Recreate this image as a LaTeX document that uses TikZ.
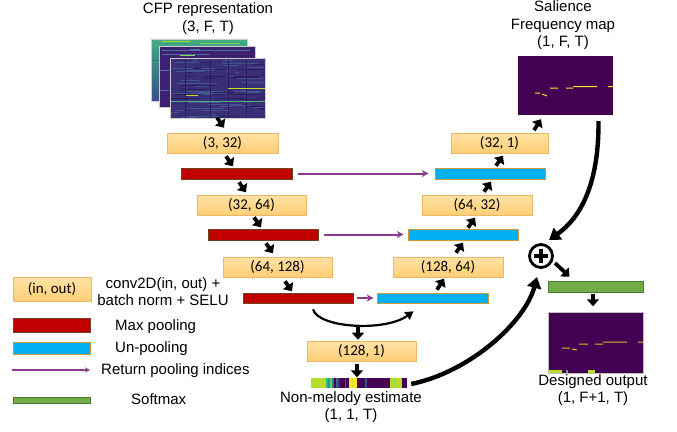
\documentclass[tikz,border=0pt]{standalone}
\usepackage{fontspec}
\setmainfont{Liberation Sans}
\newfontfamily\boxfont{Carlito}
\usetikzlibrary{arrows.meta}
\definecolor{boxtop}{HTML}{FFE2A6}
\definecolor{boxbot}{HTML}{FFCE74}
\definecolor{boxedge}{HTML}{EDB865}
\definecolor{poolred}{HTML}{C00000}
\definecolor{unblue}{HTML}{00B0F0}
\definecolor{smgreen}{HTML}{70AD47}
\definecolor{retpurple}{HTML}{8E3A8C}
\definecolor{vpurple}{HTML}{440154}
\definecolor{vyellow}{HTML}{FDE725}
\definecolor{vygreen}{HTML}{B5DE2B}
\definecolor{sgA}{HTML}{3FAE83}
\definecolor{sgB}{HTML}{3A4C8A}
\definecolor{sgC}{HTML}{7AD151}
\definecolor{sgD}{HTML}{26828E}
\definecolor{sgE}{HTML}{3B2170}
\definecolor{sgF}{HTML}{4F6FAA}
\definecolor{sgG}{HTML}{8FD744}
\definecolor{sgH}{HTML}{3A3078}
\definecolor{sgI}{HTML}{41578F}
\definecolor{sgJ}{HTML}{2E1C5E}
\definecolor{sgK}{HTML}{C8E020}
\definecolor{sgL}{HTML}{4FB07A}
\begin{document}
\begin{tikzpicture}[x=1pt,y=-1pt,
  txt/.style={font=\fontsize{15}{17.5}\selectfont, align=center, inner sep=0},
  convbox/.style={draw=boxedge, line width=0.6, top color=boxtop, bottom color=boxbot,
    minimum height=20, inner sep=0, font=\boxfont\fontsize{15}{17}\selectfont},
  poolbar/.style={draw=black!45!brown, line width=0.5, fill=poolred, minimum height=11, inner sep=0},
  unpoolbar/.style={draw=brown!80!yellow, line width=0.6, fill=unblue, minimum height=11, inner sep=0},
  smbar/.style={draw=smgreen!70!black, line width=0.6, fill=smgreen, minimum height=11, inner sep=0},
  ret/.style={draw=retpurple, line width=2, -{Stealth[length=7,width=7]}},
  sarr/.style={line width=3.8, -{Triangle[length=7,width=12]}},
  bigarr/.style={line width=4.4, -{Triangle[length=11,width=14]}},
  midarr/.style={line width=2.2, -{Triangle[length=8,width=9]}}
]
\useasboundingbox (0,0) rectangle (677,431);

% ---------- CFP spectrogram stack ----------
\node[txt] (cfpt) at (208,18.5) {CFP representation\\(3, F, T)};
\begin{scope}
  \shade[top color=sgA, bottom color=sgB, draw=black!20, line width=0.5] (151,39) rectangle (247,101);
  \draw[vygreen, line width=1] (162,41) -- (190,41);
  \draw[sgC, line width=0.8] (200,43) -- (240,43);
  \draw[sgD, line width=1] (152,60) -- (159,60) (152,75) -- (159,75);
\end{scope}
\begin{scope}
  \fill[sgE, draw=black!20, line width=0.5] (159,46) rectangle (255,107);
  \draw[sgF, line width=0.7] (162,50) -- (250,50) (162,54) -- (210,54) (160,70) -- (169,70) (160,90) -- (169,90);
  \draw[sgG, line width=1] (180,55) -- (195,55);
  \draw[sgF, line width=0.7] (190,49) -- (200,49);
\end{scope}
\begin{scope}
  \fill[sgH] (170,58) rectangle (265,118);
  \clip (170,58) rectangle (265,118);
  \pgfmathsetseed{11}
  \foreach \i in {1,...,80}{
    \pgfmathsetmacro\yy{58+rnd*60}
    \pgfmathsetmacro\xa{168+rnd*95}
    \pgfmathsetmacro\ll{4+rnd*35}
    \pgfmathsetmacro\cc{rnd}
    \ifdim\cc pt<0.5pt
      \draw[sgI, line width=0.7] (\xa,\yy) -- ++(\ll,0);
    \else
      \draw[sgJ, line width=0.9] (\xa,\yy) -- ++(\ll,0);
    \fi
  }
  \foreach \xx in {185,210,228,246}{\draw[sgJ, line width=0.8] (\xx,60) -- (\xx,118);}
  \draw[sgK, line width=1] (228,88) -- (265,88);
  \draw[sgK, line width=1] (186,95) -- (198,95);
  \draw[sgL, line width=0.8] (170,101) -- (265,101);
\end{scope}
\draw[black!20, line width=0.5] (170,58) rectangle (265,118);

% ---------- encoder ----------
\node[convbox, minimum width=111] (b1) at (222.5,143) {(3, 32)};
\node[poolbar, minimum width=111] (r1) at (236.5,173.5) {};
\node[convbox, minimum width=109] (b2) at (251.5,205) {(32, 64)};
\node[poolbar, minimum width=110] (r2) at (263,234.5) {};
\node[convbox, minimum width=109] (b3) at (277.5,267) {(64, 128)};
\node[poolbar, minimum width=110, minimum height=10] (r3) at (298,298) {};
\node[convbox, minimum width=109] (b4) at (361.5,351) {(128, 1)};

% ---------- decoder ----------
\node[unpoolbar, minimum width=111, minimum height=10] (u3) at (432.5,298) {};
\node[convbox, minimum width=110] (b5) at (448,267) {(128, 64)};
\node[unpoolbar, minimum width=110] (u2) at (463,234.5) {};
\node[convbox, minimum width=110] (b6) at (477,205) {(64, 32)};
\node[unpoolbar, minimum width=110] (u1) at (490,173.5) {};
\node[convbox, minimum width=97] (b7) at (499.5,143) {(32, 1)};

% ---------- salience map ----------
\node[txt] (salt) at (563,25.5) {Salience\\Frequency map\\(1, F, T)};
\node[fill=vpurple, minimum width=95, minimum height=59, inner sep=0] (map) at (565.5,85.5) {};
\draw[vyellow, line width=1] (535,93) -- (540,93) (542,94) -- (547,96) (550,88) -- (558,88)
  (566,88) -- (573,88) (573,86.5) -- (597,86.5) (608,86.5) -- (613,86.5);

% ---------- non-melody bar ----------
\node[minimum width=96, minimum height=10, inner sep=0] (nm) at (359,383) {};
\foreach \a/\b/\c in {311/326/B5DE2B, 326/328/35B779, 328/330/1F9E89, 330/332/6ECE58,
   332/334/26828E, 334/336/440154, 336/338/31688E, 338/340/482878, 340/349/440154,
   345/346/3E4989, 349/357/FDE725, 352/353/D8E219, 357/365/440154, 365/367/3B528B,
   367/390/440154, 390/402/B5DE2B, 394/395/8FD744, 402/407/440154}
  {\definecolor{stripecol}{HTML}{\c}\fill[stripecol] (\a,378) rectangle (\b,388);}
\node[txt] (nmt) at (351,407) {Non-melody estimate\\(1, 1, T)};

% ---------- sum, softmax, output ----------
\node[circle, draw, line width=2.8, minimum size=23, inner sep=0] (plus) at (541,256) {};
\draw[line width=4.2] ([xshift=-7]plus.center) -- ([xshift=7]plus.center)
  ([yshift=-7]plus.center) -- ([yshift=7]plus.center);
\node[smbar, minimum width=95] (g) at (595.5,286.5) {};
\node[fill=vpurple, draw=black!25, line width=0.6, minimum width=95, minimum height=61, inner sep=0] (out) at (595.5,342.5) {};
\draw[vyellow!85!black, line width=1] (562,348) -- (570,348) (572,349) -- (577,350) (579,344) -- (588,344)
  (595,344) -- (603,344) (603,342) -- (627,342) (638,342) -- (643,342);
\fill[vygreen] (548.5,370) rectangle (562,372.5);
\fill[sgL] (566,370) rectangle (568,372.5);
\fill[vygreen] (588,370) rectangle (595,372.5);
\node[txt] (outt) at (593,390) {Designed output\\(1, F+1, T)};

% ---------- return pooling indices ----------
\draw[ret] ([xshift=6]r1.east) -- ([xshift=-6]u1.west);
\draw[ret] ([xshift=6]r2.east) -- ([xshift=-4]u2.west);
\draw[ret] ([xshift=4]r3.east) -- ([xshift=-3]u3.west);

% ---------- small arrows ----------
\draw[sarr] ([shift={(-5.5,-15)}]b1.north) -- ([shift={(1.5,-5)}]b1.north);
\draw[sarr] ([shift={(3.5,3)}]b1.south) -- ([shift={(10.5,13)}]b1.south);
\draw[sarr] ([shift={(2.5,3)}]r1.south) -- ([shift={(9.5,13)}]r1.south);
\draw[sarr] ([shift={(2.5,2)}]b2.south) -- ([shift={(9.5,12)}]b2.south);
\draw[sarr] ([shift={(3,3)}]r2.south) -- ([shift={(10,13)}]r2.south);
\draw[sarr] ([shift={(7.5,4)}]b3.south) -- ([shift={(14.5,14)}]b3.south);

\draw[sarr] ([shift={(4.5,-3)}]u3.north) -- ([shift={(11.5,-14)}]u3.north);
\draw[sarr] ([shift={(8,-4)}]b5.north) -- ([shift={(15,-14)}]b5.north);
\draw[sarr] ([shift={(5,-1)}]u2.north) -- ([shift={(12,-11)}]u2.north);
\draw[sarr] ([shift={(7,-3)}]b6.north) -- ([shift={(14,-13)}]b6.north);
\draw[sarr] ([shift={(6,-2)}]u1.north) -- ([shift={(13,-12)}]u1.north);
\draw[sarr] ([shift={(-31.5,15)}]map.south) -- ([shift={(-24.5,4)}]map.south);

\draw[sarr] ([shift={(-3.5,-14)}]b4.north) -- ([shift={(-3.5,-1)}]b4.north);
\draw[sarr] ([shift={(-4.5,3)}]b4.south) -- ([shift={(-4.5,16)}]b4.south);
\draw[sarr] ([shift={(-2.5,2)}]g.south) -- ([shift={(-2.5,14)}]g.south);
\draw[sarr] ([shift={(14,7)}]plus.center) -- ([shift={(-26,-4)}]g.north);

% ---------- curved arrows ----------
\draw[midarr] ([shift={(15,6)}]r3.south) .. controls (318,328) and (385,332) .. ([shift={(-19,8)}]u3.south);
\draw[bigarr] ([shift={(33,6)}]map.south) .. controls (599,185) and (580,218) .. ([shift={(8,-16)}]plus.center);
\draw[bigarr] ([shift={(4,1)}]nm.east) .. controls (470,372) and (525,322) .. ([shift={(-4,21)}]plus.center);

% ---------- legend ----------
\node[convbox, minimum width=78, minimum height=24] (lb) at (52,289) {(in, out)};
\node[txt] (lbt) at (163,291.5) {conv2D(in, out) +\\batch norm + SELU};
\node[poolbar, minimum width=77, minimum height=14] (lr) at (51.5,325) {};
\node[txt, anchor=west] (lrt) at (115,327) {Max pooling};
\node[unpoolbar, minimum width=77, minimum height=12] (lu) at (51.5,348) {};
\node[txt, anchor=west] (lut) at (115,348.5) {Un-pooling};
\coordinate (lpa) at (12,370);
\coordinate (lpb) at (90,370);
\draw[ret, line width=1.4, -{Stealth[length=5,width=5]}] (lpa) -- (lpb);
\node[txt, anchor=west] (lpt) at (101,370.5) {Return pooling indices};
\node[smbar, minimum width=77, minimum height=6] (lg) at (51.5,400) {};
\node[txt, anchor=west] (lgt) at (131,399.5) {Softmax};
\end{tikzpicture}
\end{document}
